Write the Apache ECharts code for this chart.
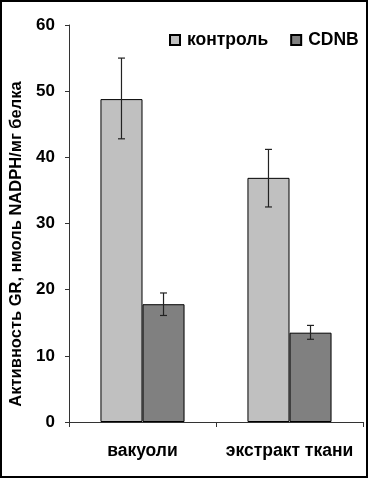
<!DOCTYPE html>
<html>
<head>
<meta charset="utf-8">
<script src="https://cdn.jsdelivr.net/npm/echarts@6/dist/echarts.min.js"></script>
<style>
html,body{margin:0;padding:0;background:#fff;}
#chart{width:368px;height:478px;}
</style>
</head>
<body>
<div id="chart"></div>
<script>
var categories = ['вакуоли', 'экстракт ткани'];
var seriesNames = ['контроль', 'CDNB'];
var controlValues = [48.8, 36.9];
var controlErrLow = [42.8, 32.5];
var controlErrHigh = [55.0, 41.2];
var cdnbValues = [17.8, 13.5];
var cdnbErrLow = [16.1, 12.5];
var cdnbErrHigh = [19.5, 14.6];
var yTicks = [0, 10, 20, 30, 40, 50, 60];
var yAxisTitle = 'Активность GR, нмоль NADPH/мг белка';

var FONT = '"Liberation Sans", Arial, sans-serif';
var BAR_FRAC = 0.286;

function errorSeries(low, high, side) {
  var data = low.map(function (l, i) { return [i, l, high[i]]; });
  return {
    type: 'custom',
    silent: true,
    z: 10,
    data: data,
    renderItem: function (params, api) {
      var idx = api.value(0);
      var pLow = api.coord([idx, api.value(1)]);
      var pHigh = api.coord([idx, api.value(2)]);
      var band = api.size([1, 0])[0];
      var x = pLow[0] + side * band * BAR_FRAC / 2;
      var cap = 3.5;
      var st = { stroke: '#222', lineWidth: 1.2 };
      return {
        type: 'group',
        children: [
          { type: 'line', shape: { x1: x, y1: pLow[1], x2: x, y2: pHigh[1] }, style: st },
          { type: 'line', shape: { x1: x - cap, y1: pLow[1], x2: x + cap, y2: pLow[1] }, style: st },
          { type: 'line', shape: { x1: x - cap, y1: pHigh[1], x2: x + cap, y2: pHigh[1] }, style: st }
        ]
      };
    }
  };
}

var chart = echarts.init(document.getElementById('chart'));
chart.setOption({
  backgroundColor: '#fff',
  animation: false,
  grid: { left: 69, right: 5, top: 25, bottom: 56 },
  legend: {
    left: 164, top: 26,
    icon: 'rect',
    itemWidth: 10, itemHeight: 10, itemGap: 22,
    data: seriesNames,
    textStyle: { fontFamily: FONT, fontWeight: 'bold', fontSize: 17.5, color: '#000', padding: [0, 0, 0, 2] }
  },
  xAxis: {
    type: 'category',
    data: categories,
    axisLine: { lineStyle: { color: '#333', width: 1 } },
    axisTick: { show: true, inside: false, length: 5, lineStyle: { color: '#333' } },
    axisLabel: { interval: 0, fontFamily: FONT, fontWeight: 'bold', fontSize: 17.5, color: '#000', margin: 20 }
  },
  yAxis: {
    type: 'value',
    min: 0, max: 60, interval: 10,
    axisLine: { show: true, lineStyle: { color: '#333', width: 1 } },
    axisTick: { show: true, length: 4, lineStyle: { color: '#333' } },
    splitLine: { show: false },
    axisLabel: {
      fontFamily: FONT, fontWeight: 'bold', fontSize: 17, color: '#000', margin: 14,
      formatter: function (v) { return yTicks.indexOf(v) >= 0 ? String(v) : ''; }
    }
  },
  graphic: [
    {
      type: 'text',
      x: 16, y: 244,
      rotation: Math.PI / 2,
      style: {
        text: yAxisTitle,
        fontFamily: FONT, fontWeight: 'bold', fontSize: 16.5, fill: '#000',
        align: 'center', verticalAlign: 'middle'
      }
    },
    {
      type: 'rect',
      shape: { x: 1, y: 1, width: 366, height: 476 },
      style: { fill: 'none', stroke: '#000', lineWidth: 2 },
      silent: true
    }
  ],
  series: [
    {
      name: seriesNames[0], type: 'bar', data: controlValues,
      barWidth: (BAR_FRAC * 100) + '%', barGap: '0%',
      itemStyle: { color: '#c0c0c0', borderColor: '#000', borderWidth: 1 }
    },
    {
      name: seriesNames[1], type: 'bar', data: cdnbValues,
      barWidth: (BAR_FRAC * 100) + '%', barGap: '0%',
      itemStyle: { color: '#808080', borderColor: '#000', borderWidth: 1 }
    },
    errorSeries(controlErrLow, controlErrHigh, -1),
    errorSeries(cdnbErrLow, cdnbErrHigh, 1)
  ]
});
</script>
</body>
</html>
